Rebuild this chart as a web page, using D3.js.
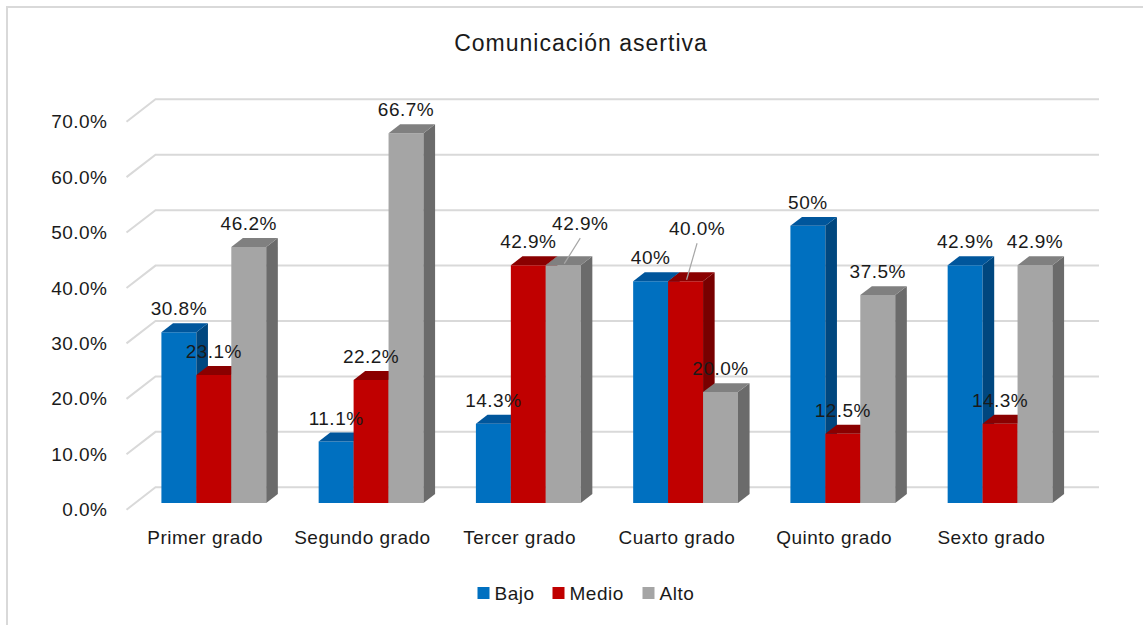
<!DOCTYPE html>
<html>
<head>
<meta charset="utf-8">
<script src="https://cdn.jsdelivr.net/npm/d3@7"></script>
<style>
  html, body { margin: 0; padding: 0; background: #ffffff; }
  svg { display: block; font-family: "Liberation Sans", Arial, sans-serif; }
</style>
</head>
<body>
<svg id="chart" width="1143" height="625"></svg>
<script>
// ---- data ----
const title = "Comunicación asertiva";
const categories = ["Primer grado", "Segundo grado", "Tercer grado", "Cuarto grado", "Quinto grado", "Sexto grado"];
const seriesNames = ["Bajo", "Medio", "Alto"];
const bajo  = [30.8, 11.1, 14.3, 40.0, 50.0, 42.9];
const medio = [23.1, 22.2, 42.9, 40.0, 12.5, 14.3];
const alto  = [46.2, 66.7, 42.9, 20.0, 37.5, 42.9];
const bajoLabels  = ["30.8%", "11.1%", "14.3%", "40%", "50%", "42.9%"];
const medioLabels = ["23.1%", "22.2%", "42.9%", "40.0%", "12.5%", "14.3%"];
const altoLabels  = ["46.2%", "66.7%", "42.9%", "20.0%", "37.5%", "42.9%"];
const yTicks = [0, 10, 20, 30, 40, 50, 60, 70];
const yTickLabels = ["0.0%", "10.0%", "20.0%", "30.0%", "40.0%", "50.0%", "60.0%", "70.0%"];

// ---- styles / layout (not data) ----
const frontColors = { Bajo: "#0070C0", Medio: "#C00000", Alto: "#A5A5A5" };
const topColors   = { Bajo: "#00569C", Medio: "#8A0000", Alto: "#808080" };
const sideColors  = { Bajo: "#00477F", Medio: "#780000", Alto: "#6B6B6B" };
// manually moved data labels: [category index, series index, dx, dy]
const labelMoves = [[2, 2, 17, -18.5], [3, 1, 11.5, -29.5]];

const seriesValues = [bajo, medio, alto];
const seriesLabels = [bajoLabels, medioLabels, altoLabels];

const svg = d3.select("#chart");
const DX = 29, DY = 22.4;     // depth projection offsets
const ZF = 0.3, ZB = 0.7;     // bar depth range

const x0 = d3.scaleBand().domain(categories).range([126.5, 1070]).paddingInner(1 / 3).paddingOuter(1 / 6);
const x1 = d3.scaleBand().domain(seriesNames).range([0, x0.bandwidth()]);
const y = d3.scaleLinear().domain([0, 70]).range([509.7, 121.7]);
const proj = (x, v, z) => [x + z * DX, y(v) - z * DY];

// border
svg.append("rect").attr("x", 7).attr("y", 7).attr("width", 1300).attr("height", 800)
  .attr("fill", "none").attr("stroke", "#d9d9d9").attr("stroke-width", 2);

// title
svg.append("text").attr("x", 581).attr("y", 51).attr("text-anchor", "middle")
  .attr("font-size", 23).attr("letter-spacing", 1).attr("fill", "#1a1a1a").text(title);

// gridlines (side wall + back wall)
const [xL, xR] = x0.range();
const grid = svg.append("g").attr("stroke", "#d9d9d9").attr("stroke-width", 2).attr("fill", "none");
yTicks.forEach(t => {
  const a = proj(xL, t, 0), b = proj(xL, t, 1), c = proj(xR, t, 1);
  grid.append("polyline").attr("points", [a, b, c].map(p => p.join(",")).join(" "));
});

// y tick labels
svg.append("g").selectAll("text").data(yTicks).join("text")
  .attr("x", 107.5).attr("y", d => y(d)).attr("dy", "0.35em").attr("text-anchor", "end")
  .attr("font-size", 19).attr("letter-spacing", 0.5).attr("fill", "#1a1a1a")
  .text((d, i) => yTickLabels[i]);

// bars
const bars = [];
categories.forEach((c, ci) => {
  seriesNames.forEach((s, si) => {
    const xa = x0(c) + x1(s), xb = xa + x1.bandwidth();
    bars.push({ c, ci, s, si, xa, xb, v: seriesValues[si][ci], label: seriesLabels[si][ci] });
  });
});
const pts = arr => arr.map(p => p.join(",")).join(" ");
const barG = svg.append("g");
bars.forEach(d => {
  const g = barG.append("g");
  g.append("polygon").attr("fill", frontColors[d.s])
    .attr("points", pts([proj(d.xa, 0, ZF), proj(d.xb, 0, ZF), proj(d.xb, d.v, ZF), proj(d.xa, d.v, ZF)]));
  g.append("polygon").attr("fill", sideColors[d.s])
    .attr("points", pts([proj(d.xb, 0, ZF), proj(d.xb, 0, ZB), proj(d.xb, d.v, ZB), proj(d.xb, d.v, ZF)]));
  g.append("polygon").attr("fill", topColors[d.s])
    .attr("points", pts([proj(d.xa, d.v, ZF), proj(d.xb, d.v, ZF), proj(d.xb, d.v, ZB), proj(d.xa, d.v, ZB)]));
});

// data labels
const labG = svg.append("g");
bars.forEach(d => {
  const top = proj((d.xa + d.xb) / 2, d.v, ZF);
  let lx = top[0], ly = top[1] - 23.5;
  const mv = labelMoves.find(m => m[0] === d.ci && m[1] === d.si);
  if (mv) {
    lx += mv[2]; ly += mv[3];
    labG.append("line").attr("x1", lx).attr("y1", ly + 15).attr("x2", top[0] + 1).attr("y2", top[1] - 1.5)
      .attr("stroke", "#a6a6a6").attr("stroke-width", 1.2);
  }
  labG.append("text").attr("x", lx).attr("y", ly).attr("dy", "0.35em").attr("text-anchor", "middle")
    .attr("font-size", 19).attr("letter-spacing", 0.5).attr("fill", "#1a1a1a").text(d.label);
});

// category labels
svg.append("g").selectAll("text").data(categories).join("text")
  .attr("x", d => x0(d) + x0.bandwidth() / 2).attr("y", 537).attr("dy", "0.35em")
  .attr("text-anchor", "middle").attr("font-size", 19).attr("letter-spacing", 0.5).attr("fill", "#1a1a1a")
  .text(d => d);

// legend
const legendX = [477.5, 552.5, 642.5];
const leg = svg.append("g").selectAll("g").data(seriesNames).join("g")
  .attr("transform", (d, i) => `translate(${legendX[i]},593)`);
leg.append("rect").attr("x", 0).attr("y", -6).attr("width", 12).attr("height", 12).attr("fill", d => frontColors[d]);
leg.append("text").attr("x", 17).attr("y", 0).attr("dy", "0.35em").attr("font-size", 19)
  .attr("letter-spacing", 0.5).attr("fill", "#1a1a1a").text(d => d);
</script>
</body>
</html>
